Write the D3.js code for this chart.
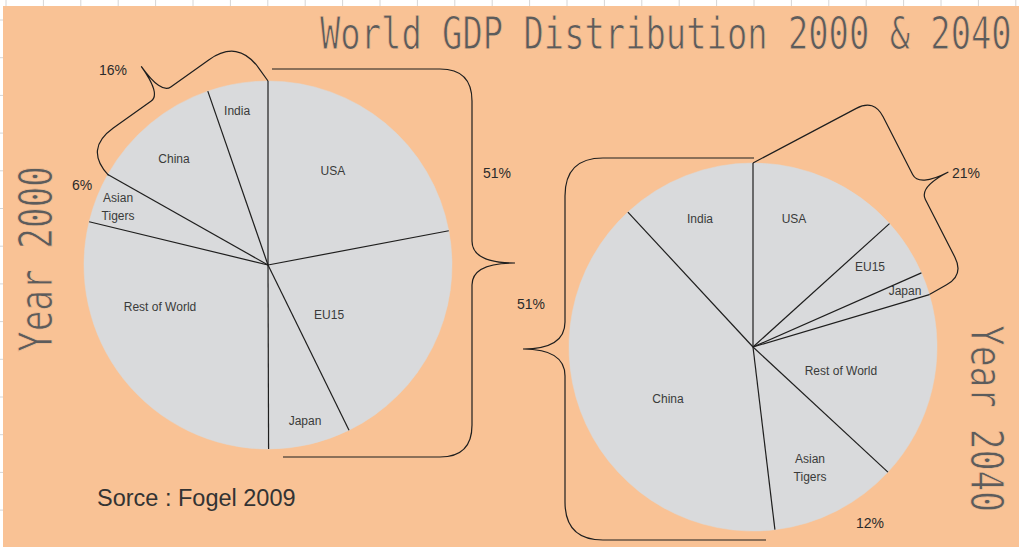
<!DOCTYPE html>
<html>
<head>
<meta charset="utf-8">
<script src="https://cdn.jsdelivr.net/npm/d3@7"></script>
<style>
  body { margin: 0; background: #ffffff; }
  svg { display: block; }
</style>
</head>
<body>
<svg id="chart" width="1019" height="547"></svg>
<script>
// shares of world GDP, slices go clockwise from 12 o'clock
const regions = ["USA", "EU15", "Japan", "Rest of World", "Asian Tigers", "China", "India"];
const share2000 = [22.0, 20.7, 7.2, 28.8, 4.4, 11.5, 5.3];
const share2040 = [13.3, 5.1, 2.0, 16.5, 11.2, 40.0, 11.9];

// bracket / side notes
const notes2000 = ["16%", "6%", "51%"];
const notes2040 = ["51%", "21%", "12%"];

const title = "World GDP Distribution 2000 & 2040";
const source = "Sorce : Fogel 2009";

const bgColor = "#f9c295";
const pieColor = "#d9dadc";
const lineColor = "#1e1e1e";
const labelColor = "#3a3a3a";
const headColor = "#5c5c5c";
const R = 184;

// label spots, as fractions of the radius from the centre
const labelPos2000 = [[0.353, -0.511], [0.332, 0.272], [0.201, 0.848], [-0.587, 0.228],
                      [-0.815, -0.315], [-0.511, -0.576], [-0.168, -0.837]];
const labelPos2040 = [[0.223, -0.696], [0.636, -0.435], [0.826, -0.304], [0.478, 0.130],
                      [0.310, 0.658], [-0.462, 0.283], [-0.288, -0.696]];

let svg = d3.select("#chart");

// spreadsheet cells peeking out at the edges
svg.selectAll(".gridX")
  .data(d3.range(0, 28))
  .enter()
  .append("line")
    .attr("x1", d => 6 + d * 37.4)
    .attr("x2", d => 6 + d * 37.4)
    .attr("y1", 0)
    .attr("y2", 547)
    .style("stroke", "#d6d6d6");
svg.selectAll(".gridY")
  .data(d3.range(0, 15))
  .enter()
  .append("line")
    .attr("x1", 0)
    .attr("x2", 1019)
    .attr("y1", d => 20 + d * 37.7)
    .attr("y2", d => 20 + d * 37.7)
    .style("stroke", "#d6d6d6");

svg.append("rect")
  .attr("x", 3)
  .attr("y", 6)
  .attr("width", 1016)
  .attr("height", 541)
  .style("fill", bgColor);

function arcPoint(cx, cy, a) {
  return [cx + R * Math.sin(a), cy - R * Math.cos(a)];
}

function drawPie(cx, cy, values, labelPos) {
  let arcs = d3.pie().sort(null).startAngle(0).endAngle(2 * Math.PI)(values);
  let arc = d3.arc().innerRadius(0).outerRadius(R);
  let g = svg.append("g").attr("transform", `translate(${cx},${cy})`);

  g.selectAll(".slice")
    .data(arcs)
    .enter()
    .append("path")
      .attr("d", arc)
      .style("fill", pieColor)
      .style("stroke", pieColor)
      .style("stroke-width", 0.5);

  g.selectAll(".edge")
    .data(arcs)
    .enter()
    .append("line")
      .attr("x1", 0)
      .attr("y1", 0)
      .attr("x2", d => R * Math.sin(d.startAngle))
      .attr("y2", d => -R * Math.cos(d.startAngle))
      .style("stroke", lineColor)
      .style("stroke-width", 1.2);

  g.selectAll(".label")
    .data(arcs)
    .enter()
    .append("text")
      .attr("x", (d, i) => labelPos[i][0] * R)
      .attr("y", (d, i) => labelPos[i][1] * R)
      .attr("text-anchor", "middle")
      .attr("dominant-baseline", "central")
      .style("font-family", "'Liberation Sans', Arial, sans-serif")
      .style("font-size", "12px")
      .style("fill", labelColor)
      .each(function(d, i) {
        let words = regions[i] == "Asian Tigers" ? ["Asian", "Tigers"] : [regions[i]];
        let t = d3.select(this);
        words.forEach((w, k) => {
          t.append("tspan")
            .attr("x", labelPos[i][0] * R)
            .attr("dy", k == 0 ? (words.length - 1) * -9 : 18)
            .text(w);
        });
      });

  return arcs;
}

// curly bracket: arm ends e0/e1, corners c0/c1, tip at the spine middle
function brace(e0, c0, c1, e1, depth, r, r2) {
  const unit = (a, b) => {
    let dx = b[0] - a[0], dy = b[1] - a[1], l = Math.hypot(dx, dy);
    return [dx / l, dy / l];
  };
  const at = (p, v, k) => [p[0] + v[0] * k, p[1] + v[1] * k];
  let a0 = unit(e0, c0), u = unit(c0, c1), a1 = unit(c1, e1);
  let n = [-u[1], u[0]];
  if (n[0] * a0[0] + n[1] * a0[1] < 0) n = [u[1], -u[0]];
  let m = [(c0[0] + c1[0]) / 2, (c0[1] + c1[1]) / 2];

  let p = d3.path();
  p.moveTo(...e0);
  p.lineTo(...at(c0, a0, -r));
  p.quadraticCurveTo(...c0, ...at(c0, u, r));
  p.lineTo(...at(m, u, -r2));
  p.quadraticCurveTo(...m, ...at(m, n, depth));
  p.quadraticCurveTo(...m, ...at(m, u, r2));
  p.lineTo(...at(c1, u, -r));
  p.quadraticCurveTo(...c1, ...at(c1, a1, r));
  p.lineTo(...e1);

  svg.append("path")
    .attr("d", p.toString())
    .style("fill", "none")
    .style("stroke", lineColor)
    .style("stroke-width", 1.2);
}

function note(x, y, txt) {
  svg.append("text")
    .attr("x", x)
    .attr("y", y)
    .attr("text-anchor", "middle")
    .style("font-family", "'Liberation Sans', Arial, sans-serif")
    .style("font-size", "14px")
    .style("fill", "#2b2b2b")
    .text(txt);
}

// squeezed mono heading, fitted to a given length
// (a thin background-coloured stroke makes the glyphs a little lighter)
function heading(txt, x, y, rot, size, len) {
  let t = svg.append("text")
    .text(txt)
    .style("font-family", "'DejaVu Sans Mono', monospace")
    .style("font-size", size + "px")
    .style("fill", headColor)
    .style("stroke", bgColor)
    .style("stroke-width", 0.9);
  let sx = len / t.node().getComputedTextLength();
  t.attr("transform", `translate(${x},${y}) rotate(${rot}) scale(${sx},1)`);
}

// ---- Year 2000 ----
let cx1 = 268, cy1 = 265;
let arcs1 = drawPie(cx1, cy1, share2000, labelPos2000);

// China + India
brace(arcPoint(cx1, cy1, 0), [238, 39], [84, 149], arcPoint(cx1, cy1, arcs1[5].startAngle), 34, 36, 12);
// USA + EU15 + Japan
brace([cx1 + 4, cy1 - R - 12], [cx1 + R + 20, cy1 - R - 12],
      [cx1 + R + 20, cy1 + R + 8], [cx1 + 15, cy1 + R + 8], 43, 32, 22);

note(113, 75, notes2000[0]);
note(82, 190, notes2000[1]);
note(497, 178, notes2000[2]);

// ---- Year 2040 ----
let cx2 = 753, cy2 = 347;
let arcs2 = drawPie(cx2, cy2, share2040, labelPos2040);

// China + India
brace([cx2 + 1, cy2 - R - 5], [cx2 - R - 4, cy2 - R - 5],
      [cx2 - R - 4, cy2 + R + 9], [cx2 + 13, cy2 + R + 9], 42, 38, 27);
// USA + EU15 + Japan
brace(arcPoint(cx2, cy2, 0), [874, 99], [964, 275], arcPoint(cx2, cy2, arcs2[2].endAngle), 33, 20, 14);

note(531, 309, notes2040[0]);
note(966, 178, notes2040[1]);
note(870, 528, notes2040[2]);

// ---- headings ----
heading(title, 320, 49, 0, 44, 692);
heading("Year 2000", 52, 352, -90, 46, 186);
heading("Year 2040", 971, 325, 90, 44, 187);

svg.append("text")
  .attr("x", 97)
  .attr("y", 506)
  .text(source)
  .style("font-family", "'Liberation Sans', Arial, sans-serif")
  .style("font-size", "23.5px")
  .style("fill", "#333333");
</script>
</body>
</html>
